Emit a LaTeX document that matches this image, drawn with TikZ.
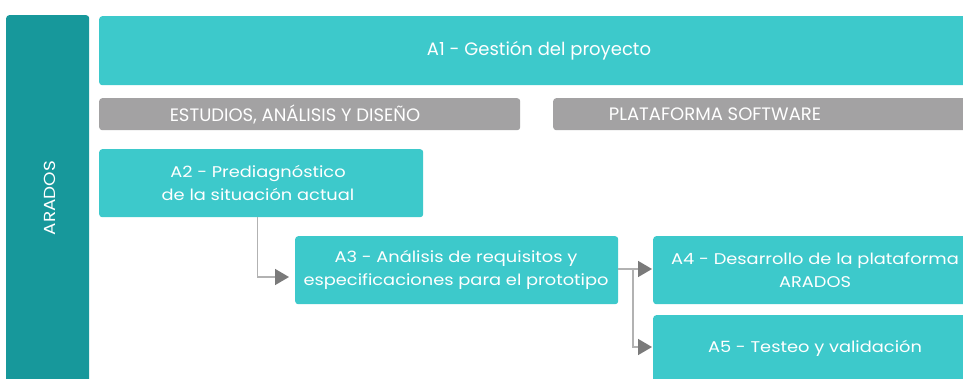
\documentclass[tikz,border=0pt]{standalone}
\usepackage{fontspec}
\setmainfont{Poppins}
\newfontfamily\widefont[FakeStretch=1.15]{Poppins}
\usetikzlibrary{arrows.meta}
\definecolor{teal1}{HTML}{3DC9CB}
\definecolor{teal2}{HTML}{17989B}
\definecolor{grayb}{HTML}{A3A2A3}
\definecolor{lineg}{HTML}{B2B2B2}
\definecolor{arrowg}{HTML}{7A7A7A}
\tikzset{
  box/.style={fill=teal1, rounded corners=3pt, inner sep=0pt, anchor=north west},
  graybox/.style={fill=grayb, rounded corners=3pt, inner sep=0pt, anchor=north west},
  boxtext/.style={text=white, align=center, inner sep=0pt, font=\widefont\fontsize{15.5}{23}\selectfont},
  headtext/.style={text=white, align=center, inner sep=0pt, font=\fontsize{18}{20}\selectfont},
  conn/.style={draw=lineg, line width=1.6pt, -{Triangle[length=14pt,width=16pt,color=arrowg,fill=arrowg]}},
}
\begin{document}
\begin{tikzpicture}[x=1pt,y=-1pt]
\useasboundingbox (0,0) rectangle (963,378);
% left bar
\node[fill=teal2, rounded corners=3pt, minimum width=83pt, minimum height=380pt, anchor=north west, inner sep=0pt] (bar) at (6,15) {};
\node[rotate=90, text=white, inner sep=0pt, font=\widefont\fontsize{16}{18}\selectfont] (arados) at (50,198) {ARADOS};
% A1
\node[box, minimum width=880pt, minimum height=69pt] (a1) at (99,16) {};
\node[headtext] (a1t) at (539,51) {A1 - Gestión del proyecto};
% gray headers
\node[graybox, minimum width=421pt, minimum height=32pt] (g1) at (99,98) {};
\node[headtext] (g1t) at (295,114) {ESTUDIOS, ANÁLISIS Y DISEÑO};
\node[graybox, minimum width=430pt, minimum height=32pt] (g2) at (553,98) {};
\node[headtext] (g2t) at (715,114) {PLATAFORMA SOFTWARE};
% A2
\node[box, minimum width=324pt, minimum height=68pt] (a2) at (99,149) {};
\node[boxtext] (a2t) at (258,183) {A2 - Prediagnóstico\\de la situación actual};
% A3
\node[box, minimum width=323pt, minimum height=68pt] (a3) at (295,236) {};
\node[boxtext] (a3t) at (456,270) {A3 - Análisis de requisitos y\\especificaciones para el prototipo};
% A4
\node[box, minimum width=324pt, minimum height=68pt] (a4) at (653,236) {};
\node[boxtext] (a4t) at (815,270) {A4 - Desarrollo de la plataforma\\ARADOS};
% A5
\node[box, minimum width=324pt, minimum height=75pt] (a5) at (653,315) {};
\node[boxtext] (a5t) at (815,348) {A5 - Testeo y validación};
% connectors
\coordinate (c1) at (257.5,277);
\coordinate (b1) at (633,269);
\coordinate (b2) at (633,347);
\draw[conn, shorten >=6pt] (a2.south -| c1) -- (c1) -- (a3.west |- c1);
\draw[conn, shorten >=1pt] (a3.east |- b1) -- (a4.west |- b1);
\draw[conn, shorten >=1pt] (b1) -- (b2) -- (a5.west |- b2);
\end{tikzpicture}
\end{document}
